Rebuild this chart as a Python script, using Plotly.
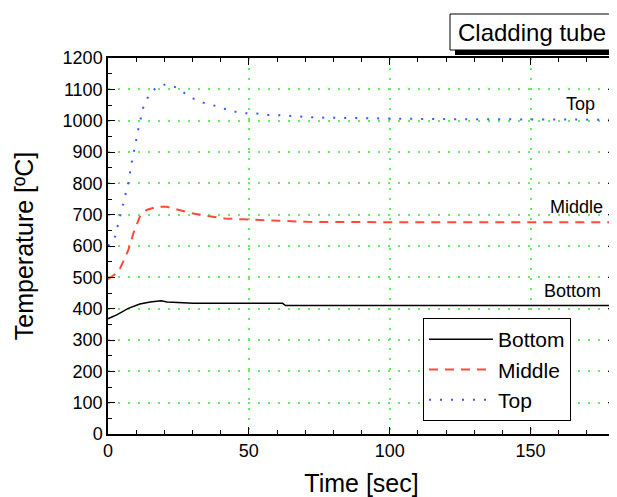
import plotly.graph_objects as go

# Data
t_bottom = [0, 3.1, 7.2, 11.3, 15, 18.8, 21, 30.3, 62, 63, 100, 150, 180]
T_bottom = [368, 380, 401, 415, 421, 425, 421, 417, 417, 410, 410, 410, 410]

t_middle = [0, 3.7, 5.4, 7.2, 9, 11.3, 13.7, 17.3, 20.8, 24.4, 29, 35, 41.5, 48, 52.6, 58.6, 71, 100, 150, 180]
T_middle = [494, 518, 550, 587, 640, 694, 715, 725, 725, 717, 706, 696, 688, 685, 683, 681, 677, 676, 676, 676]

t_top = [0, 2.2, 5, 7.6, 8.0, 8.7, 9.3, 10.2, 10.9, 11.8, 12.6, 14.3, 16.9, 20.4, 23.9, 27.4, 31.1,
         34.6, 38.2, 42, 45.5, 48.9, 52.7, 56.3, 59.6, 67, 74, 90, 116.5, 150, 180]
T_top = [600, 620, 720, 816, 848, 883, 915, 947, 979, 1011, 1045, 1077, 1104, 1116, 1107, 1087, 1066,
         1055, 1047, 1036, 1028, 1024, 1023, 1018, 1018, 1014, 1010, 1008, 1005, 1004, 1003]

x_ticks = [0, 50, 100, 150]
y_ticks = list(range(0, 1201, 100))

FONT = "Liberation Sans, Arial, sans-serif"

fig = go.Figure()
fig.add_trace(go.Scatter(x=t_bottom, y=T_bottom, mode="lines", name="Bottom",
                         line=dict(color="black", width=1.5)))
fig.add_trace(go.Scatter(x=t_middle, y=T_middle, mode="lines", name="Middle",
                         line=dict(color="#ff4a3a", width=2, dash="9px,7px")))
fig.add_trace(go.Scatter(x=t_top, y=T_top, mode="lines", name="Top",
                         line=dict(color="#3a55ff", width=2, dash="2px,9px")))

# page body has an 8px margin; reference page coordinates are shifted by it
OFF = 8
W, H = 617 - OFF, 497 - OFF
# plot area in page px: left 108, right 615, top 58, bottom 434
L, R, T, B = 108, 615, 58, 434

def px(x):
    return (x - L) / (R - L)

def py(y):
    return (B - y) / (B - T)

GRID = dict(showgrid=True, gridcolor="#66ee66", griddash="2px,8px", gridwidth=1.5)

fig.update_layout(
    width=W, height=H,
    margin=dict(l=L - OFF, r=617 - R, t=T - OFF, b=497 - B, autoexpand=False),
    paper_bgcolor="white", plot_bgcolor="white",
    font=dict(family=FONT, color="black"),
    showlegend=True,
    legend=dict(x=px(423), y=py(318), xanchor="left", yanchor="top",
                bgcolor="white", bordercolor="black", borderwidth=1,
                font=dict(size=21, family=FONT), tracegroupgap=0,
                itemwidth=64),
    xaxis=dict(range=[0, 180], tickvals=x_ticks, ticks="inside", ticklen=7,
               tickcolor="black", showline=True, linecolor="black", linewidth=1.5,
               mirror="ticks", zeroline=False, tickfont=dict(size=18),
               automargin=False, **GRID,
               minor=dict(dtick=10, ticks="inside", ticklen=4, tickcolor="black", showgrid=False),
               title=dict(text="Time [sec]", font=dict(size=25), standoff=16)),
    yaxis=dict(range=[0, 1200], tickvals=y_ticks, ticks="inside", ticklen=7,
               tickcolor="black", showline=True, linecolor="black", linewidth=1.5,
               mirror="ticks", zeroline=False, tickfont=dict(size=18),
               automargin=False, **GRID,
               minor=dict(dtick=50, ticks="inside", ticklen=4, tickcolor="black", showgrid=False),
               title=dict(text="Temperature [ºC]", font=dict(size=25), standoff=22)),
)

# Title box with drop shadow
fig.add_shape(type="rect", xref="paper", yref="paper",
              x0=px(455), x1=px(617), y0=py(55), y1=py(19),
              fillcolor="black", line=dict(width=0), layer="above")
fig.add_shape(type="rect", xref="paper", yref="paper",
              x0=px(450), x1=px(612), y0=py(50), y1=py(14),
              fillcolor="white", line=dict(color="black", width=1), layer="above")
fig.add_annotation(xref="paper", yref="paper", x=px(531.5), y=py(32),
                   text="Cladding tube", showarrow=False,
                   font=dict(size=24, family=FONT), xanchor="center", yanchor="middle")

# line labels
for label, lx, ly in [("Top", 580, 104), ("Middle", 576, 207), ("Bottom", 572, 291)]:
    fig.add_annotation(xref="paper", yref="paper", x=px(lx), y=py(ly), text=label,
                       showarrow=False, xanchor="center", yanchor="middle",
                       font=dict(size=18, family=FONT))

fig.write_html("out.html")
